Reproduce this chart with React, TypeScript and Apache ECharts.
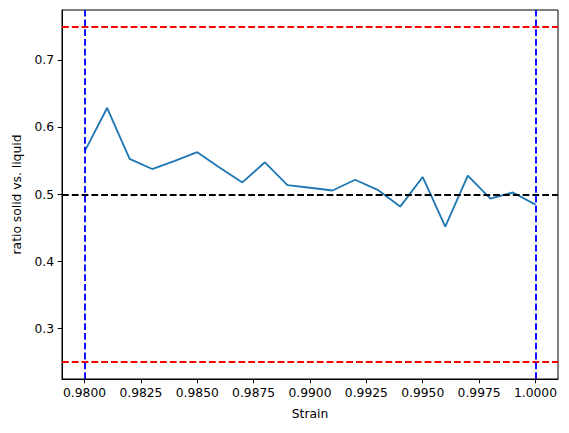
import React, { useEffect, useRef } from "react";
import * as echarts from "echarts";

const strain = [0.98, 0.981, 0.982, 0.983, 0.984, 0.985, 0.986, 0.987, 0.988, 0.989, 0.99, 0.991, 0.992, 0.993, 0.994, 0.995, 0.996, 0.997, 0.998, 0.999, 1.0];
const ratio = [0.564, 0.629, 0.553, 0.538, 0.55, 0.563, 0.54, 0.518, 0.548, 0.514, 0.51, 0.506, 0.522, 0.507, 0.482, 0.526, 0.452, 0.528, 0.494, 0.503, 0.485];
const xTicks = [0.98, 0.9825, 0.985, 0.9875, 0.99, 0.9925, 0.995, 0.9975, 1.0];
const yTicks = [0.3, 0.4, 0.5, 0.6, 0.7];
const boundLines = [0.25, 0.75];
const meanLine = [0.5];
const strainLines = [0.98, 1.0];

const FONT = "DejaVu Sans";

export default function App() {
  const ref = useRef<HTMLDivElement>(null);
  useEffect(() => {
    const chart = echarts.init(ref.current!, null, { renderer: "svg" });
    const dash = { type: [6.8, 3.0] as any, width: 1.85 };
    chart.setOption({
      animation: false,
      backgroundColor: "#ffffff",
      grid: {
        left: 62,
        top: 10,
        width: 496,
        height: 369,
        show: true,
        borderColor: "#000",
        borderWidth: 1,
        backgroundColor: "transparent",
      },
      xAxis: {
        type: "value",
        min: 0.979,
        max: 1.001,
        name: "Strain",
        nameLocation: "middle",
        nameGap: 29,
        nameTextStyle: { fontFamily: FONT, fontSize: 12.3, color: "#000" },
        splitLine: { show: false },
        axisLine: { show: true, onZero: false, lineStyle: { color: "#000", width: 1 } },
        axisTick: { show: true, length: 4.3, customValues: xTicks, lineStyle: { color: "#000", width: 1 } },
        axisLabel: {
          customValues: xTicks,
          formatter: (v: number) => v.toFixed(4),
          margin: 8,
          fontFamily: FONT,
          fontSize: 12.3,
          color: "#000",
        },
      },
      yAxis: {
        type: "value",
        min: 0.225,
        max: 0.775,
        name: "ratio solid vs. liquid",
        nameLocation: "middle",
        nameGap: 39,
        nameTextStyle: { fontFamily: FONT, fontSize: 12.3, color: "#000" },
        splitLine: { show: false },
        axisLine: { show: true, onZero: false, lineStyle: { color: "#000", width: 1 } },
        axisTick: { show: true, length: 4.3, customValues: yTicks, lineStyle: { color: "#000", width: 1 } },
        axisLabel: {
          customValues: yTicks,
          formatter: (v: number) => v.toFixed(1),
          margin: 8,
          fontFamily: FONT,
          fontSize: 12.3,
          color: "#000",
        },
      },
      series: [
        {
          type: "line",
          data: strain.map((x, i) => [x, ratio[i]]),
          showSymbol: false,
          symbol: "none",
          lineStyle: { color: "#1f77b4", width: 1.85 },
          z: 2,
        },
        {
          type: "line",
          data: [],
          z: 3,
          markLine: {
            silent: true,
            symbol: "none",
            label: { show: false },
            animation: false,
            data: [
              ...boundLines.map((v) => ({ yAxis: v, lineStyle: { color: "#ff0000", ...dash } })),
              ...meanLine.map((v) => ({ yAxis: v, lineStyle: { color: "#000000", ...dash } })),
              ...strainLines.map((v) => ({ xAxis: v, lineStyle: { color: "#0000ff", ...dash } })),
            ],
          },
        },
      ],
    });
    return () => chart.dispose();
  }, []);
  return (
    <div
      ref={ref}
      style={{ position: "absolute", left: 0, top: 0, width: 569, height: 433 }}
    />
  );
}
